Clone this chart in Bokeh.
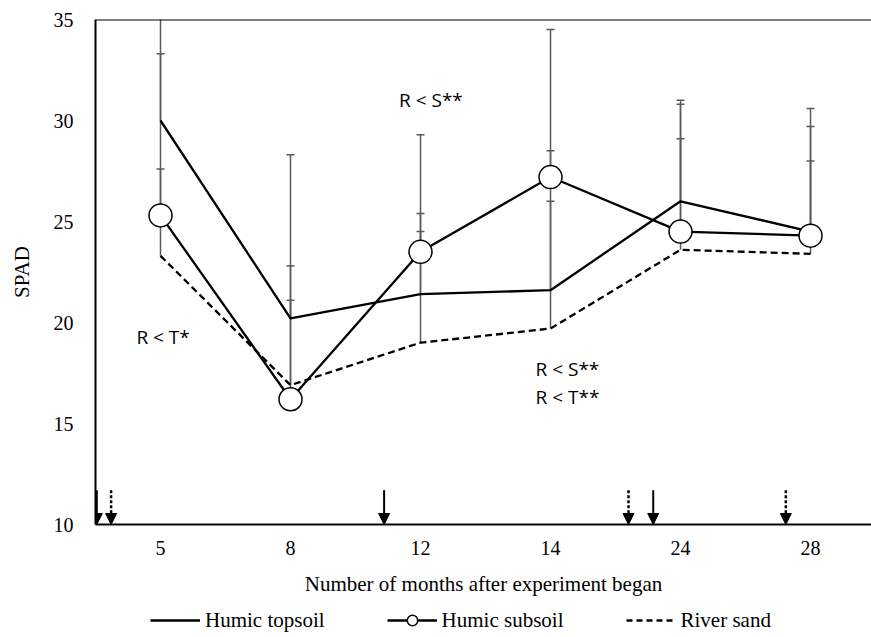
from bokeh.plotting import figure
from bokeh.layouts import column
from bokeh.models import (Range1d, FixedTicker, Span, Arrow, NormalHead,
                          ColumnDataSource, Legend, LegendItem)
from bokeh.core.properties import value
from bokeh.embed import file_html
from bokeh.resources import INLINE

# ---- data ----
months = ["5", "8", "12", "14", "24", "28"]
topsoil = [30.0, 20.2, 21.4, 21.6, 26.0, 24.5]
subsoil = [25.3, 16.2, 23.5, 27.2, 24.5, 24.3]
river = [23.3, 16.9, 19.0, 19.7, 23.6, 23.4]
topsoil_sd = [6.5, 8.1, 7.9, 6.9, 5.0, 6.1]
subsoil_sd = [8.0, 6.6, 1.9, 7.3, 4.6, 5.4]
river_sd = [4.3, 4.2, 5.5, 6.3, 7.2, 4.6]
y_ticks = [10, 15, 20, 25, 30, 35]
series_names = ["Humic topsoil", "Humic subsoil", "River sand"]

# arrows (position on category axis)
solid_arrows = [-0.49, 1.72, 3.79]
dotted_arrows = [-0.38, 3.60, 4.81]

notes = ["R < S**", "R < T*", "R < S**", "R < T**"]
notes_x = [2.08, 0.02, 3.13, 3.13]
notes_y = [31.0, 19.3, 17.7, 16.3]

xs = list(range(len(months)))

SERIF = "Liberation Serif"
GRAY = "#5a5a5a"

p = figure(width=871, height=600, output_backend="svg", toolbar_location=None,
           x_range=Range1d(-0.5, 5.469), y_range=Range1d(10, 35),
           min_border_left=95, min_border_right=0, min_border_top=19,
           min_border_bottom=76)
p.title.visible = False
p.outline_line_color = None
p.grid.visible = False

# top border
p.add_layout(Span(location=35, dimension="width", line_color="black", line_width=2))

# error bars
for mean, sd in ((topsoil, topsoil_sd), (subsoil, subsoil_sd), (river, river_sd)):
    up = [m + s for m, s in zip(mean, sd)]
    p.segment(x0=xs, y0=mean, x1=xs, y1=up, line_color=GRAY, line_width=1.5)
    p.scatter(x=xs, y=up, marker="dash", size=8, line_color=GRAY, line_width=1.5)

p.line(xs, topsoil, line_color="black", line_width=2.3)
p.line(xs, river, line_color="black", line_width=2.3, line_dash="7 4")
p.line(xs, subsoil, line_color="black", line_width=2.3)
p.scatter(xs, subsoil, marker="circle", size=23, fill_color="white",
          line_color="black", line_width=1.5)

# arrows
src_s = ColumnDataSource(dict(x=solid_arrows, y0=[11.7] * 3, y1=[10.0] * 3))
src_d = ColumnDataSource(dict(x=dotted_arrows, y0=[11.7] * 3, y1=[10.0] * 3))
p.add_layout(Arrow(end=NormalHead(size=11, fill_color="black", line_color="black"),
                   x_start="x", y_start="y0", x_end="x", y_end="y1", source=src_s,
                   line_width=2, line_color="black"))
p.add_layout(Arrow(end=NormalHead(size=11, fill_color="black", line_color="black"),
                   x_start="x", y_start="y0", x_end="x", y_end="y1", source=src_d,
                   line_width=2.5, line_color="black", line_dash="3 2"))

# annotations
p.text(x=notes_x, y=notes_y, text=notes, text_font=value("Open Sans"),
       text_font_size="19px", text_align="center", text_baseline="middle",
       text_color="black")

# axes
xa = p.xaxis[0]
xa.ticker = FixedTicker(ticks=xs)
xa.major_label_overrides = {i: m for i, m in enumerate(months)}
xa.major_tick_out = 0
xa.major_tick_in = 0
xa.minor_tick_out = 0
xa.minor_tick_in = 0
xa.axis_line_color = "black"
xa.axis_line_width = 2
xa.major_label_standoff = 16
xa.major_label_text_font = SERIF
xa.major_label_text_font_size = "20px"
xa.major_label_text_color = "black"
xa.axis_label = "Number of months after experiment began"
xa.axis_label_text_font = SERIF
xa.axis_label_text_font_size = "21px"
xa.axis_label_text_font_style = "normal"
xa.axis_label_standoff = 14
xa.axis_label_text_color = "black"

ya = p.yaxis[0]
ya.ticker = FixedTicker(ticks=y_ticks)
ya.major_tick_out = 0
ya.major_tick_in = 0
ya.minor_tick_out = 0
ya.minor_tick_in = 0
ya.axis_line_color = "black"
ya.axis_line_width = 2
ya.major_label_standoff = 22
ya.major_label_text_font = SERIF
ya.major_label_text_font_size = "20px"
ya.major_label_text_color = "black"
ya.axis_label = "SPAD"
ya.axis_label_text_font = SERIF
ya.axis_label_text_font_size = "21px"
ya.axis_label_text_font_style = "normal"
ya.axis_label_standoff = 17
ya.axis_label_text_color = "black"

# ---- legend strip below the chart (key glyphs sit outside its visible range) ----
lg = figure(width=871, height=37, output_backend="svg", toolbar_location=None,
            x_range=Range1d(100, 101), y_range=Range1d(100, 101),
            x_axis_type=None, y_axis_type=None,
            min_border_left=0, min_border_right=0, min_border_top=0,
            min_border_bottom=0)
lg.title.visible = False
lg.outline_line_color = None
lg.grid.visible = False
k_top = lg.line(xs, topsoil, line_color="black", line_width=2.3)
k_sub = lg.line(xs, subsoil, line_color="black", line_width=2.3)
k_subc = lg.scatter(xs, subsoil, marker="circle", size=11, fill_color="white",
                    line_color="black", line_width=1.5)
k_riv = lg.line(xs, river, line_color="black", line_width=2.3, line_dash="6 4")

legend = Legend(items=[LegendItem(label=series_names[0], renderers=[k_top]),
                       LegendItem(label=series_names[1], renderers=[k_sub, k_subc]),
                       LegendItem(label=series_names[2], renderers=[k_riv])],
                orientation="horizontal", location=(55, 4),
                glyph_width=50, glyph_height=26, label_height=20,
                label_standoff=5, spacing=62,
                padding=0, margin=0, border_line_color=None,
                background_fill_alpha=0,
                label_text_font=SERIF, label_text_font_size="21px",
                label_text_color="black")
lg.add_layout(legend, "center")

open("out.html", "w").write(file_html(column(p, lg, spacing=0), INLINE))
